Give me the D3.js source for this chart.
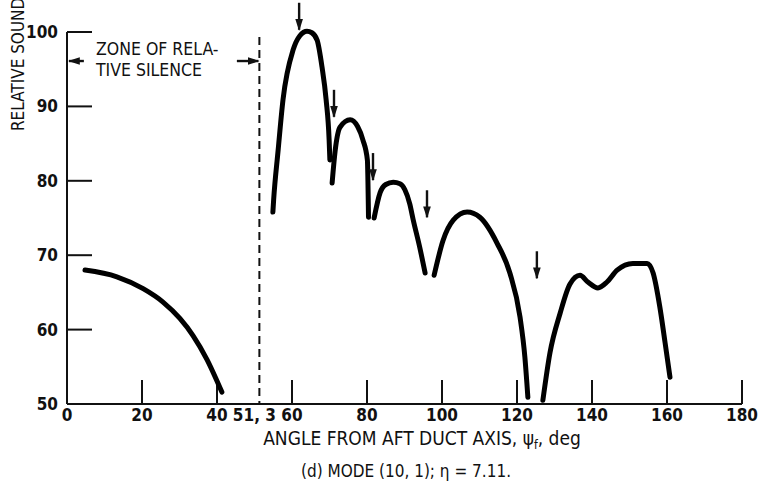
<!DOCTYPE html>
<html lang="en">
<head>
  <meta charset="UTF-8">
  <title>Mode (10,1) directivity</title>
  <style>
    body, html { margin: 0; padding: 0; background: #fff; }
    svg text { font-family: 'DejaVu Sans Condensed', sans-serif; fill: #111; }
  </style>
</head>
<body>
  <svg id="svg" width="759" height="493"></svg>
  <script src="https://d3js.org/d3.v7.min.js"></script>
  <script>
    // tick values
    const xTicks = [0, 20, 40, 60, 80, 100, 120, 140, 160, 180]
    const yTicks = [50, 60, 70, 80, 90, 100]
    const cutoffAngle = 51.3

    // curve segments: [angle deg, level dB]
    const seg0 = [[4.8, 68.0], [13.3, 67.1], [20.3, 65.5], [25.6, 63.7], [30.1, 61.5], [33.6, 59.2], [37.3, 56.0], [41.3, 51.6]]
    const seg1 = [[54.9, 75.8], [55.1, 77.4], [56.3, 84.1], [57.6, 90.9], [60.3, 97.6], [62.1, 99.5], [64.0, 100.1], [65.3, 99.9], [66.7, 98.9], [68.0, 95.3], [69.1, 90.9], [69.9, 85.5], [70.1, 82.8]]
    const seg2 = [[70.7, 79.7], [71.5, 84.0], [72.8, 87.2], [75.5, 88.2], [77.5, 87.3], [78.9, 85.5], [80.1, 82.8], [80.4, 75.1]]
    const seg3 = [[81.9, 75.0], [83.5, 78.4], [85.0, 79.5], [87.0, 79.8], [88.8, 79.6], [90.1, 78.8], [91.4, 76.9], [92.3, 74.8], [94.0, 71.2], [95.5, 67.6]]
    const seg4 = [[97.9, 67.3], [100.3, 72.0], [103.0, 74.7], [106.7, 75.8], [110.1, 75.1], [114.7, 71.6], [118.1, 67.6], [120.8, 61.7], [122.1, 56.3], [122.9, 50.9]]
    const seg5 = [[126.9, 50.5], [128.8, 56.9], [131.5, 62.2], [134.1, 66.1], [136.8, 67.3], [138.9, 66.4], [141.6, 65.6], [144.0, 66.4], [146.7, 68.0], [150.9, 68.9], [154.7, 68.9], [156.3, 67.6], [158.1, 63.0], [159.5, 58.2], [160.8, 53.6]]
    const segments = [seg0, seg1, seg2, seg3, seg4, seg5]

    // downward arrows: angle and tip level
    const arrowAngles = [61.9, 71.2, 81.6, 96.0, 125.3]
    const arrowTips = [100.3, 88.6, 80.1, 75.1, 66.9]

    const svg = d3.select('#svg')

    const x = d3.scaleLinear().domain([0, 180]).range([67, 742])
    const y = d3.scaleLinear().domain([50, 100]).range([404, 32])

    const defs = svg.append('defs')
    defs.append('marker')
      .attr('id', 'head')
      .attr('viewBox', '0 0 10 10')
      .attr('refX', 9).attr('refY', 5)
      .attr('markerWidth', 5).attr('markerHeight', 5)
      .attr('markerUnits', 'strokeWidth')
      .attr('orient', 'auto')
      .append('path')
      .attr('d', 'M0,1.8 L10,5 L0,8.2 Z')
      .attr('fill', '#111')

    // axes lines
    svg.append('line')
      .attr('x1', x(0)).attr('x2', x(0))
      .attr('y1', y(100)).attr('y2', y(50))
      .attr('stroke', '#111').attr('stroke-width', 2)
    svg.append('line')
      .attr('x1', x(0)).attr('x2', x(180))
      .attr('y1', y(50)).attr('y2', y(50))
      .attr('stroke', '#111').attr('stroke-width', 2.2)

    // y ticks pointing inward
    svg.selectAll('.ytick')
      .data(yTicks.filter(d => d > 50))
      .enter().append('line')
      .attr('x1', x(0)).attr('x2', x(0) + 25)
      .attr('y1', d => y(d)).attr('y2', d => y(d))
      .attr('stroke', '#111').attr('stroke-width', 2)

    svg.selectAll('.ylab')
      .data(yTicks)
      .enter().append('text')
      .attr('x', 58).attr('y', d => y(d) + 6)
      .attr('text-anchor', 'end')
      .style('font-size', '17px')
      .style('font-weight', 'bold')
      .text(d => d)

    // x ticks pointing up
    svg.selectAll('.xtick')
      .data(xTicks.filter(d => d > 0))
      .enter().append('line')
      .attr('x1', d => x(d)).attr('x2', d => x(d))
      .attr('y1', y(50)).attr('y2', y(50) - 24)
      .attr('stroke', '#111').attr('stroke-width', 2)

    svg.selectAll('.xlab')
      .data(xTicks)
      .enter().append('text')
      .attr('x', d => x(d)).attr('y', 421)
      .attr('text-anchor', 'middle')
      .style('font-size', '17px')
      .style('font-weight', 'bold')
      .text(d => d)

    svg.append('text')
      .attr('x', x(cutoffAngle) - 5).attr('y', 421)
      .attr('text-anchor', 'middle')
      .style('font-size', '17px')
      .style('font-weight', 'bold')
      .text('51, 3')

    // cutoff dashed line
    svg.append('line')
      .attr('x1', x(cutoffAngle)).attr('x2', x(cutoffAngle))
      .attr('y1', 37).attr('y2', y(50))
      .attr('stroke', '#111').attr('stroke-width', 2)
      .attr('stroke-dasharray', '8,5')

    // zone of relative silence
    const zoneY = 96.1
    svg.append('line')
      .attr('x1', x(4.5)).attr('x2', x(0) + 2)
      .attr('y1', y(zoneY)).attr('y2', y(zoneY))
      .attr('stroke', '#111').attr('stroke-width', 2.4)
      .attr('marker-end', 'url(#head)')
    svg.append('line')
      .attr('x1', x(45.3)).attr('x2', x(cutoffAngle) - 1)
      .attr('y1', y(zoneY)).attr('y2', y(zoneY))
      .attr('stroke', '#111').attr('stroke-width', 2.4)
      .attr('marker-end', 'url(#head)')
    svg.append('text')
      .attr('x', 96).attr('y', 55)
      .style('font-size', '17.5px')
      .text('ZONE OF RELA-')
    svg.append('text')
      .attr('x', 96).attr('y', 76)
      .style('font-size', '17.5px')
      .text('TIVE SILENCE')

    // curves
    const line = d3.line()
      .x(d => x(d[0]))
      .y(d => y(d[1]))
      .curve(d3.curveMonotoneX)

    svg.selectAll('.seg')
      .data(segments)
      .enter().append('path')
      .attr('d', line)
      .attr('fill', 'none')
      .attr('stroke', '#000')
      .attr('stroke-width', 5)
      .attr('stroke-linecap', 'round')
      .attr('stroke-linejoin', 'round')

    // arrows marking nulls/peaks
    svg.selectAll('.arrow')
      .data(arrowAngles)
      .enter().append('line')
      .attr('x1', d => x(d)).attr('x2', d => x(d))
      .attr('y1', (d, i) => y(arrowTips[i]) - 27)
      .attr('y2', (d, i) => y(arrowTips[i]))
      .attr('stroke', '#111').attr('stroke-width', 2.4)
      .attr('marker-end', 'url(#head)')

    // axis titles
    svg.append('text')
      .attr('transform', 'translate(24,131) rotate(-90)')
      .style('font-size', '17px')
      .text('RELATIVE SOUND PRESSURE LEVEL, dB')

    const xt = svg.append('text')
      .attr('x', 422).attr('y', 445)
      .attr('text-anchor', 'middle')
      .style('font-size', '19px')
    xt.append('tspan').text('ANGLE FROM AFT DUCT AXIS,  \u03c8')
    xt.append('tspan').attr('dy', 4).style('font-size', '12px').text('f')
    xt.append('tspan').attr('dy', -4).text(',  deg')

    svg.append('text')
      .attr('x', 406).attr('y', 477)
      .attr('text-anchor', 'middle')
      .style('font-size', '17px')
      .text('(d) MODE (10, 1);  \u03b7 = 7.11.')
  </script>
</body>
</html>
